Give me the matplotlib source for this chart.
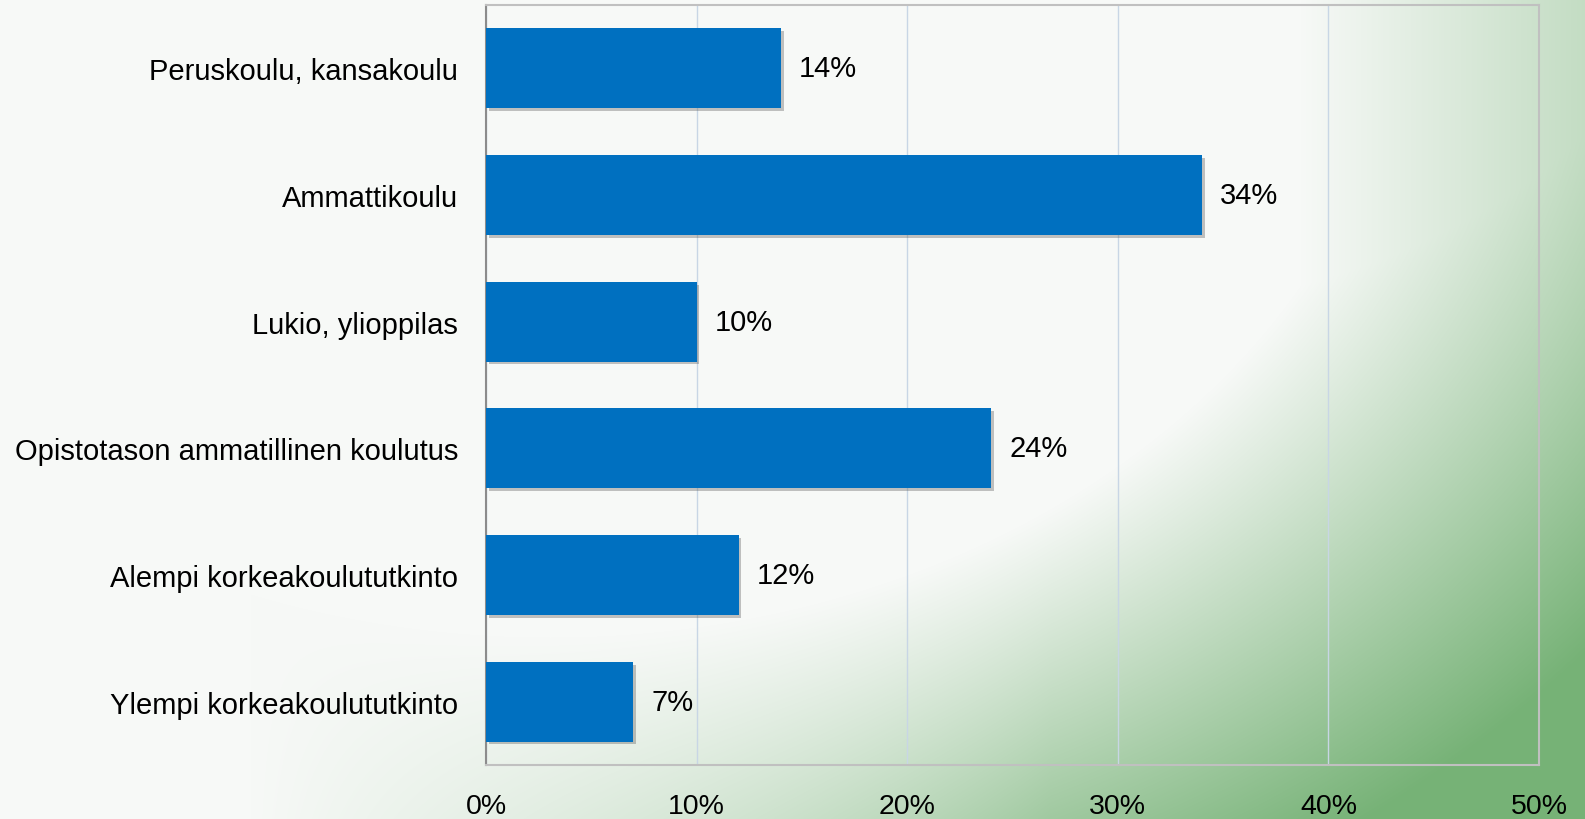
import matplotlib
matplotlib.use('Agg')
import matplotlib.pyplot as plt
import matplotlib.patheffects as pe
import numpy as np

categories = ['Peruskoulu, kansakoulu', 'Ammattikoulu', 'Lukio, ylioppilas',
              'Opistotason ammatillinen koulutus', 'Alempi korkeakoulututkinto',
              'Ylempi korkeakoulututkinto']
values = [14, 34, 10, 24, 12, 7]
xticks = [0, 10, 20, 30, 40, 50]
xtick_labels = ['0%', '10%', '20%', '30%', '40%', '50%']

W, H = 1585, 820
fig = plt.figure(figsize=(W / 100, H / 100), dpi=100)

# green swirl background (rough approximation)
yy, xx = np.mgrid[0:H, 0:W].astype(float)
r = np.sqrt((xx - 550) ** 2 + ((yy + 50) / 0.8) ** 2)
t = np.clip((r - 860) / 500, 0, 1)
g = np.clip((xx - 250) / 800, 0, 1)
t = t * g
t = np.maximum(t, 0.4 * np.clip((xx - 1300) / 285, 0, 1))
base = np.array([247, 249, 247]) / 255
green = np.array([118, 178, 118]) / 255
img = base[None, None, :] * (1 - t[..., None]) + green[None, None, :] * t[..., None]
bg = fig.add_axes([0, 0, 1, 1], zorder=0)
bg.imshow(img, aspect='auto', interpolation='bilinear')
bg.axis('off')

ax = fig.add_axes([486 / W, 1 - 766 / H, (1539 - 486) / W, (766 - 6) / H], zorder=1)
ax.set_facecolor('none')

y = np.arange(len(categories))
bars = ax.barh(y, values, height=0.63, color='#0070C0', zorder=3)
for b in bars:
    b.set_path_effects([pe.SimplePatchShadow(offset=(2, -2), alpha=0.35, shadow_rgbFace='#555555'),
                        pe.Normal()])

for yi, v in zip(y, values):
    ax.annotate(f'{v}%', (v, yi), xytext=(13, 0), textcoords='offset points',
                va='center', ha='left', fontsize=21, family='Liberation Sans', color='black')

ax.set_xlim(0, 50)
ax.set_ylim(len(categories) - 0.5, -0.5)
ax.set_xticks(xticks)
ax.set_xticklabels(xtick_labels, fontsize=20.5, family='Liberation Sans')
ax.set_yticks(y)
ax.set_yticklabels(categories, fontsize=21, family='Liberation Sans')
ax.tick_params(axis='both', length=0)
ax.tick_params(axis='x', pad=20)
ax.tick_params(axis='y', pad=20)

ax.grid(axis='x', color='#c8d6e5', linewidth=1, zorder=1)
ax.set_axisbelow(True)
for side in ['top', 'right', 'bottom']:
    ax.spines[side].set_color('#c0c0c0')
    ax.spines[side].set_linewidth(1.5)
ax.spines['left'].set_color('#8c8c8c')
ax.spines['left'].set_linewidth(1.5)

fig.savefig('out.png', dpi=100)
